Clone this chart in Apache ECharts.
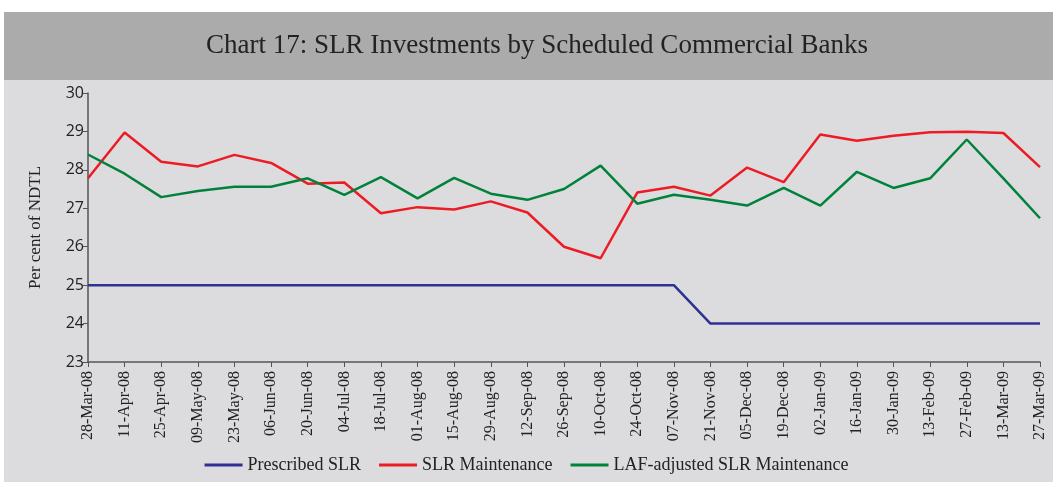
<!DOCTYPE html>
<html style="height: 100%">
<head>
    <meta charset="utf-8">
    <script type="text/javascript" src="https://cdn.jsdelivr.net/npm/echarts@6/dist/echarts.min.js"></script>
</head>
<body style="height: 100%; margin: 0; background: #ffffff">
<div id="container" style="height: 482px; width: 1053px"></div>
<script type="text/javascript">
    // fortnightly reporting dates
    var dates = ['28-Mar-08', '11-Apr-08', '25-Apr-08', '09-May-08', '23-May-08', '06-Jun-08',
        '20-Jun-08', '04-Jul-08', '18-Jul-08', '01-Aug-08', '15-Aug-08', '29-Aug-08', '12-Sep-08',
        '26-Sep-08', '10-Oct-08', '24-Oct-08', '07-Nov-08', '21-Nov-08', '05-Dec-08', '19-Dec-08',
        '02-Jan-09', '16-Jan-09', '30-Jan-09', '13-Feb-09', '27-Feb-09', '13-Mar-09', '27-Mar-09'];

    var prescribedSLR = [25, 25, 25, 25, 25, 25, 25, 25, 25, 25, 25, 25, 25, 25, 25, 25, 25,
        24, 24, 24, 24, 24, 24, 24, 24, 24, 24];

    var slrMaintenance = [27.78, 28.97, 28.21, 28.09, 28.39, 28.18, 27.64, 27.67, 26.87, 27.03,
        26.97, 27.18, 26.89, 26.0, 25.70, 27.41, 27.56, 27.33, 28.06, 27.68, 28.92, 28.76,
        28.89, 28.98, 28.99, 28.96, 28.07];

    var lafAdjusted = [28.40, 27.90, 27.29, 27.45, 27.56, 27.56, 27.78, 27.35, 27.81, 27.26,
        27.79, 27.38, 27.22, 27.50, 28.11, 27.12, 27.35, 27.22, 27.07, 27.53, 27.07, 27.95,
        27.53, 27.78, 28.79, 27.78, 26.74];

    var seriesNames = ['Prescribed SLR', 'SLR Maintenance', 'LAF-adjusted SLR Maintenance'];
    var colors = ['#2e3192', '#ed1c24', '#00823b'];

    var dom = document.getElementById('container');
    var myChart = echarts.init(dom);

    var option = {
        animation: false,
        color: colors,
        graphic: [
            {type: 'rect', shape: {x: 4, y: 80, width: 1049, height: 402}, style: {fill: '#dcdcde'}, z: -10},
            {type: 'rect', shape: {x: 4, y: 12, width: 1049, height: 68}, style: {fill: '#ababab'}, z: -10},
            {
                type: 'text', x: 537, y: 46,
                style: {
                    text: 'Chart 17: SLR Investments by Scheduled Commercial Banks',
                    font: '27px "Liberation Serif"', fill: '#222', align: 'center', verticalAlign: 'middle'
                }
            }
        ],
        legend: {
            data: seriesNames,
            bottom: 3,
            left: 'center',
            icon: 'rect',
            itemWidth: 38,
            itemHeight: 3,
            itemGap: 18,
            textStyle: {fontFamily: 'Liberation Serif', fontSize: 18, color: '#222'}
        },
        grid: {left: 88, right: 13, top: 93, bottom: 120},
        xAxis: {
            type: 'category',
            data: dates,
            boundaryGap: false,
            axisLine: {lineStyle: {color: '#555', width: 1.5}},
            axisTick: {alignWithLabel: true, length: 5, lineStyle: {color: '#555'}},
            axisLabel: {
                rotate: 90, interval: 0, margin: 9,
                fontFamily: 'Liberation Serif', fontSize: 16, color: '#222'
            }
        },
        yAxis: {
            type: 'value',
            min: 23,
            max: 30,
            interval: 1,
            name: 'Per cent of NDTL',
            nameLocation: 'middle',
            nameGap: 44,
            nameTextStyle: {fontFamily: 'Liberation Serif', fontSize: 17, color: '#222'},
            axisLine: {show: true, lineStyle: {color: '#555', width: 1.5}},
            axisTick: {show: true, length: 5, lineStyle: {color: '#555'}},
            axisLabel: {fontFamily: 'Open Sans', fontSize: 16, color: '#222', margin: 4},
            splitLine: {show: false}
        },
        series: [
            {name: seriesNames[0], type: 'line', data: prescribedSLR, symbol: 'none', lineStyle: {width: 2.5}},
            {name: seriesNames[1], type: 'line', data: slrMaintenance, symbol: 'none', lineStyle: {width: 2.5}},
            {name: seriesNames[2], type: 'line', data: lafAdjusted, symbol: 'none', lineStyle: {width: 2.5}}
        ]
    };

    myChart.setOption(option);
</script>
</body>
</html>
